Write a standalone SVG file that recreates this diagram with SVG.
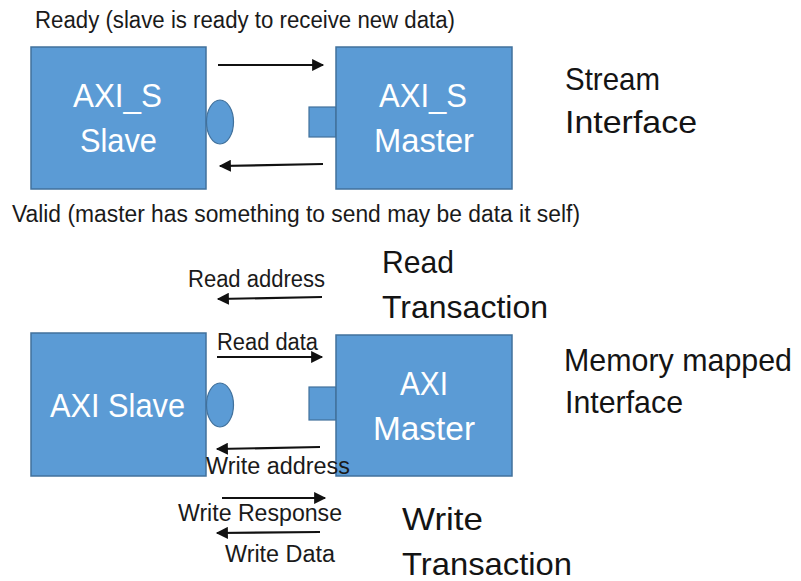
<svg xmlns="http://www.w3.org/2000/svg" width="801" height="581" viewBox="0 0 801 581">
  <style>
    .box { fill: #5b9bd5; stroke: #41719c; stroke-width: 1.5; }
    .port { fill: #5b9bd5; stroke: #41719c; stroke-width: 1.2; }
    .inner { font-family: "Liberation Sans", Arial, sans-serif; font-size: 33px; fill: #ffffff; }
    .lbl { font-family: "Liberation Sans", Arial, sans-serif; font-size: 23px; fill: #1a1a1a; }
    .title { font-family: "Liberation Sans", Arial, sans-serif; font-size: 32px; fill: #141414; }
    .wire { stroke: #111111; stroke-width: 2.2; fill: none; marker-end: url(#head); }
  </style>
  <defs>
    <marker id="head" viewBox="0 0 10 10" refX="9" refY="5" markerWidth="6" markerHeight="5.5" orient="auto" markerUnits="strokeWidth">
      <path d="M0,0 L10,5 L0,10 z" fill="#111111"/>
    </marker>
  </defs>
  <rect width="801" height="581" fill="#ffffff"/>

  <!-- stream interface -->
  <g id="axis-slave">
    <rect class="box" x="31" y="47" width="175" height="142"/>
    <ellipse class="port" cx="220" cy="122" rx="13.5" ry="22"/>
    <text class="inner" x="73" y="107" textLength="89" lengthAdjust="spacingAndGlyphs">AXI_S</text>
    <text class="inner" x="80" y="152" textLength="77" lengthAdjust="spacingAndGlyphs">Slave</text>
  </g>
  <g id="axis-master">
    <rect class="port" x="309" y="107" width="27" height="30"/>
    <rect class="box" x="336" y="47" width="176" height="142"/>
    <text class="inner" x="379" y="107" textLength="88" lengthAdjust="spacingAndGlyphs">AXI_S</text>
    <text class="inner" x="374" y="152" textLength="100" lengthAdjust="spacingAndGlyphs">Master</text>
  </g>

  <!-- memory mapped interface -->
  <g id="axi-slave">
    <rect class="box" x="31" y="333" width="175" height="143"/>
    <ellipse class="port" cx="220" cy="405" rx="13.5" ry="22"/>
    <text class="inner" x="50" y="417" textLength="135" lengthAdjust="spacingAndGlyphs">AXI Slave</text>
  </g>
  <g id="axi-master">
    <rect class="port" x="309" y="387" width="27" height="33"/>
    <rect class="box" x="336" y="335" width="176" height="141"/>
    <text class="inner" x="400" y="395" textLength="48" lengthAdjust="spacingAndGlyphs">AXI</text>
    <text class="inner" x="373" y="440" textLength="102" lengthAdjust="spacingAndGlyphs">Master</text>
  </g>

  <g id="connectors">
    <line class="wire" x1="218" y1="65" x2="323" y2="65"/>
    <line class="wire" x1="323" y1="164" x2="220" y2="166"/>
    <line class="wire" x1="322" y1="297" x2="218" y2="299"/>
    <line class="wire" x1="217" y1="357" x2="322" y2="357"/>
    <line class="wire" x1="320" y1="447" x2="217" y2="449"/>
    <line class="wire" x1="222" y1="498" x2="325" y2="498"/>
    <line class="wire" x1="320" y1="532" x2="217" y2="533"/>
  </g>

  <g id="labels">
    <text class="lbl" x="35" y="28" textLength="420" lengthAdjust="spacingAndGlyphs">Ready (slave is ready to receive new data)</text>
    <text class="lbl" x="12" y="222" textLength="568" lengthAdjust="spacingAndGlyphs">Valid (master has something to send may be data it self)</text>
    <text class="lbl" x="188" y="287" textLength="137" lengthAdjust="spacingAndGlyphs">Read address</text>
    <text class="lbl" x="217" y="350" textLength="101" lengthAdjust="spacingAndGlyphs">Read data</text>
    <text class="lbl" x="206" y="474" textLength="144" lengthAdjust="spacingAndGlyphs">Write address</text>
    <text class="lbl" x="178" y="521" textLength="164" lengthAdjust="spacingAndGlyphs">Write Response</text>
    <text class="lbl" x="225" y="562" textLength="110" lengthAdjust="spacingAndGlyphs">Write Data</text>
  </g>

  <g id="titles">
    <text class="title" x="565" y="90" textLength="95" lengthAdjust="spacingAndGlyphs">Stream</text>
    <text class="title" x="565" y="133" textLength="132" lengthAdjust="spacingAndGlyphs">Interface</text>
    <text class="title" x="382" y="273" textLength="72" lengthAdjust="spacingAndGlyphs">Read</text>
    <text class="title" x="382" y="318" textLength="166" lengthAdjust="spacingAndGlyphs">Transaction</text>
    <text class="title" x="564" y="371" font-size="30.5" textLength="228" lengthAdjust="spacingAndGlyphs">Memory mapped</text>
    <text class="title" x="565" y="413" textLength="118" lengthAdjust="spacingAndGlyphs">Interface</text>
    <text class="title" x="402" y="530" textLength="81" lengthAdjust="spacingAndGlyphs">Write</text>
    <text class="title" x="402" y="575" textLength="170" lengthAdjust="spacingAndGlyphs">Transaction</text>
  </g>
</svg>
